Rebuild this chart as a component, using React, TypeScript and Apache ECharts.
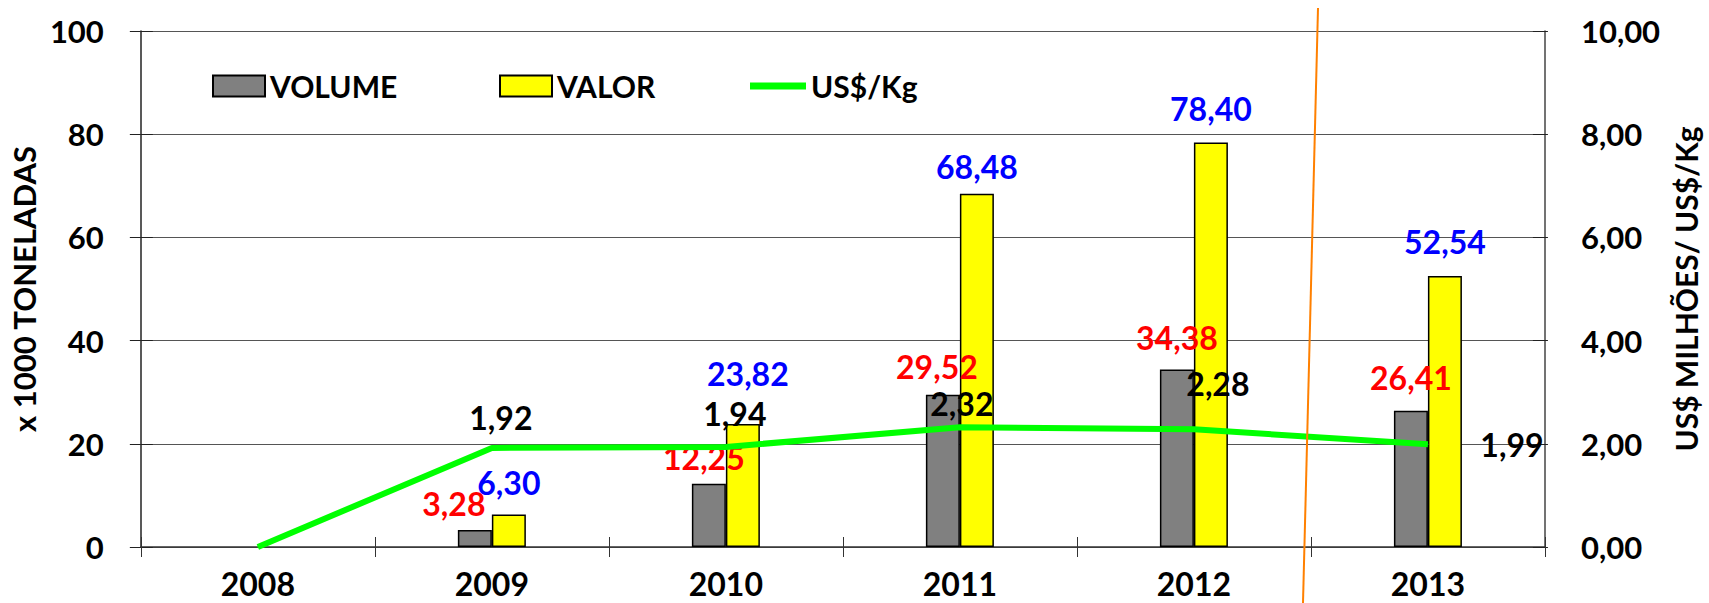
import React, { useEffect, useRef } from "react";
import * as echarts from "echarts";

// ---- data ----
const years = ["2008", "2009", "2010", "2011", "2012", "2013"];
const volume: (number | null)[] = [null, 3.28, 12.25, 29.52, 34.38, 26.41];
const valor: (number | null)[] = [null, 6.3, 23.82, 68.48, 78.4, 52.54];
const usdPerKg: number[] = [0, 1.92, 1.94, 2.32, 2.28, 1.99];
const usdPerKgShowLabel = [false, true, true, true, true, true];

// ---- label placement (layout only: [dx, dy] of label centre) ----
const volumeLabelShift: number[][] = [[0, 0], [-21, -27], [-5, -26], [-6, -28], [0, -32], [0, -33]];
const valorLabelShift: number[][] = [[0, 0], [0, -32], [5, -51], [0, -27], [0, -34], [0, -34]];
const priceLabelShift: number[][] = [[0, 0], [9, -30], [9, -33], [2, -24], [24, -46], [84, 0]];

const FONT = "Lato";
const fmt2 = (v: number) => v.toFixed(2).replace(".", ",");

export default function App() {
  const ref = useRef<HTMLDivElement>(null);
  useEffect(() => {
    document.body.style.margin = "0";
    const chart = echarts.init(ref.current!, undefined, { renderer: "svg" });
    const labelBase = {
      show: true,
      position: ["50%", 0],
      align: "center",
      verticalAlign: "middle",
      fontFamily: FONT,
      fontWeight: "bold",
      fontSize: 32,
      formatter: (p: any) => fmt2(p.value),
    };
    const legendText = { fontFamily: FONT, fontWeight: "bold", fontSize: 30, color: "#000" };
    const option: any = {
      animation: false,
      backgroundColor: "#fff",
      grid: { left: 123, right: 159, top: 31, bottom: 56, containLabel: false },
      legend: [
        { data: ["VOLUME"], left: 207, top: 66, icon: "rect", itemWidth: 52, itemHeight: 21, textStyle: legendText, selectedMode: false },
        { data: ["VALOR"], left: 494, top: 66, icon: "rect", itemWidth: 52, itemHeight: 21, textStyle: legendText, selectedMode: false },
        { data: ["US$/Kg"], left: 745, top: 66, icon: "rect", itemWidth: 56, itemHeight: 7, textStyle: legendText, selectedMode: false, itemStyle: { borderWidth: 0 } },
      ],
      xAxis: [
        {
          type: "category",
          data: years,
          position: "bottom",
          axisLine: { show: true, lineStyle: { color: "#333", width: 1.5 } },
          axisTick: { show: true, inside: false, length: 10, lineStyle: { color: "#333" } },
          axisLabel: { margin: 20, fontFamily: FONT, fontWeight: "bold", fontSize: 32, color: "#000" },
          splitLine: { show: false },
        },
        {
          type: "category",
          data: years,
          position: "bottom",
          axisLine: { show: false },
          axisTick: { show: true, inside: true, length: 10, lineStyle: { color: "#333" } },
          axisLabel: { show: false },
          splitLine: { show: false },
        },
      ],
      yAxis: [
        {
          type: "value",
          min: 0,
          max: 100,
          interval: 20,
          position: "left",
          name: "x 1000 TONELADAS",
          nameLocation: "middle",
          nameRotate: 90,
          nameGap: 80,
          nameTextStyle: { fontFamily: FONT, fontWeight: "bold", fontSize: 31, color: "#000" },
          axisLine: { show: true, lineStyle: { color: "#222", width: 1.5 } },
          axisTick: { show: true, inside: false, length: 11, lineStyle: { color: "#222" } },
          axisLabel: { margin: 37, fontFamily: FONT, fontWeight: "bold", fontSize: 31, color: "#000" },
          splitLine: { show: true, lineStyle: { color: "#555", width: 1 } },
        },
        {
          type: "value",
          min: 0,
          max: 10,
          interval: 2,
          position: "right",
          name: "US$ MILHÕES/ US$/Kg",
          nameLocation: "middle",
          nameRotate: 90,
          nameGap: 117,
          nameTextStyle: { fontFamily: FONT, fontWeight: "bold", fontSize: 30, color: "#000" },
          axisLine: { show: true, lineStyle: { color: "#444", width: 1.5 } },
          axisTick: { show: true, inside: false, length: 3, lineStyle: { color: "#222" } },
          axisLabel: { margin: 36, fontFamily: FONT, fontWeight: "bold", fontSize: 31, color: "#000", formatter: (v: number) => fmt2(v) },
          splitLine: { show: false },
        },
        {
          type: "value", min: 0, max: 100, interval: 20, position: "left",
          axisLine: { show: false }, axisLabel: { show: false }, splitLine: { show: false },
          axisTick: { show: true, inside: true, length: 12, lineStyle: { color: "#222" } },
        },
        {
          type: "value", min: 0, max: 10, interval: 2, position: "right",
          axisLine: { show: false }, axisLabel: { show: false }, splitLine: { show: false },
          axisTick: { show: true, inside: true, length: 12, lineStyle: { color: "#222" } },
        },
      ],
      series: [
        {
          name: "VOLUME",
          type: "bar",
          yAxisIndex: 0,
          barWidth: 34,
          barGap: "0%",
          itemStyle: { color: "#808080", borderColor: "#000", borderWidth: 1.5 },
          label: { ...labelBase, color: "#ff0000" },
          data: volume.map((v, i) => (v == null ? null : { value: v, label: { offset: volumeLabelShift[i] } })),
          z: 2,
        },
        {
          name: "VALOR",
          type: "bar",
          yAxisIndex: 0,
          barWidth: 34,
          barGap: "0%",
          itemStyle: { color: "#ffff00", borderColor: "#000", borderWidth: 1.5 },
          label: { ...labelBase, color: "#0000ff" },
          data: valor.map((v, i) => (v == null ? null : { value: v, label: { offset: valorLabelShift[i] } })),
          z: 2,
        },
        {
          name: "US$/Kg",
          type: "line",
          yAxisIndex: 1,
          symbol: "circle",
          symbolSize: 1,
          showSymbol: true,
          itemStyle: { color: "#00ff00" },
          lineStyle: { color: "#00ff00", width: 6, cap: "butt" },
          label: {
            show: true,
            position: "inside",
            fontFamily: FONT,
            fontWeight: "bold",
            fontSize: 32,
            color: "#000",
            formatter: (p: any) => fmt2(p.value),
          },
          data: usdPerKg.map((v, i) => ({
            value: v,
            label: { show: usdPerKgShowLabel[i], offset: priceLabelShift[i] },
          })),
          z: 3,
        },
      ],
      graphic: [
        {
          type: "line",
          z: 10,
          shape: { x1: 1318, y1: 8, x2: 1303, y2: 603 },
          style: { stroke: "#ff8000", lineWidth: 2 },
        },
      ],
    };
    chart.setOption(option);
    return () => chart.dispose();
  }, []);
  return <div ref={ref} style={{ width: 1709, height: 603 }} />;
}
